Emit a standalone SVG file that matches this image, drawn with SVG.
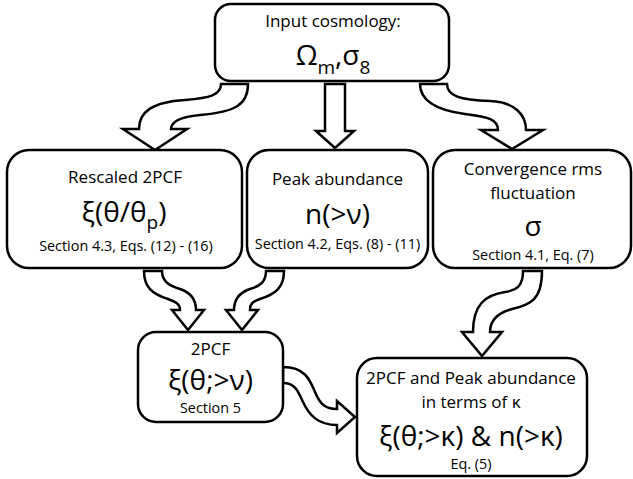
<svg xmlns="http://www.w3.org/2000/svg" width="633" height="479" viewBox="0 0 633 479">
<style>
.box{fill:#fff;stroke:#000;stroke-width:2.5}
.arr{fill:#fff;stroke:#000;stroke-width:2.5;stroke-linejoin:miter}
text{font-family:"Open Sans","Noto Sans","DejaVu Sans",sans-serif;fill:#000;text-anchor:middle}
.lbl{font-size:17px}
.math{font-size:28px}
.sec{font-size:14.4px}
</style>
<rect width="633" height="479" fill="#fff"/>
<g id="connectors">
<path class="arr" d="M 221,84 L 248,84 C 248,105 235,112 200,115 C 180,117 171,122 171,129 L 187,129 L 155,150 L 123,129 L 139,129 C 139,112 152,102 185,100 C 210,98 221,95 221,84 Z"/>
<path class="arr" d="M 325,84 L 345,84 L 345,131 L 354,131 L 335,148 L 316,131 L 325,131 Z"/>
<path class="arr" d="M 420,84 L 447,84 C 447,96 460,100 490,101 C 515,102 526,115 526,130 L 543,130 L 512,149 L 481,130 L 498,130 C 498,120 490,117 465,114 C 435,110 420,100 420,84 Z"/>
<path class="arr" d="M 144,271 L 162,271 C 162,282 170,286 180,289 C 192,293 196,300 196,310 L 204,310 L 188,330 L 172,310 L 180,310 C 180,304 176,302 168,299 C 152,294 144,287 144,271 Z"/>
<path class="arr" d="M 266,271 L 284,271 C 284,287 276,294 260,299 C 252,302 250,304 250,310 L 258,310 L 242,330 L 226,310 L 234,310 C 234,300 238,293 250,289 C 260,286 266,282 266,271 Z"/>
<path class="arr" d="M 523,271 L 542,271 C 542,300 530,305 512,309 C 497,313 490,320 490,332 L 502,332 L 482,356 L 462,332 L 473,332 C 473,305 485,295 505,292 C 518,290 523,285 523,271 Z"/>
<path class="arr" d="M 283,367 C 305,367 310,380 315,392 C 320,404 325,409 337,409 L 337,401 L 355,417 L 337,433 L 337,425 C 318,425 309,415 303,402 C 298,391 295,383 283,383 Z"/>
</g>
<g id="input">
<rect class="box" x="215" y="4" width="234" height="77" rx="16"/>
<text class="lbl" x="333" y="27">Input cosmology:</text>
<text class="math" x="333" y="65">Ω<tspan font-size="19" dy="9">m</tspan><tspan dy="-9">,σ</tspan><tspan font-size="19" dy="9">8</tspan></text>
</g>
<g id="rescaled">
<rect class="box" x="7" y="150" width="235" height="118" rx="22"/>
<text class="lbl" x="125" y="183">Rescaled 2PCF</text>
<text class="math" x="124" y="222">ξ(θ/θ<tspan font-size="19" dy="7">p</tspan><tspan dy="-7">)</tspan></text>
<text class="sec" x="126" y="251">Section 4.3, Eqs. (12) - (16)</text>
</g>
<g id="peak">
<rect class="box" x="247" y="150" width="181" height="118" rx="22"/>
<text class="lbl" x="337.5" y="185">Peak abundance</text>
<text class="math" x="337.5" y="224" font-size="30">n(&gt;ν)</text>
<text class="sec" x="337.5" y="249">Section 4.2, Eqs. (8) - (11)</text>
</g>
<g id="sigma">
<rect class="box" x="433" y="150" width="198" height="118" rx="22"/>
<text class="lbl" x="533" y="175">Convergence rms</text>
<text class="lbl" x="533" y="199">fluctuation</text>
<text class="math" x="533" y="236">σ</text>
<text class="sec" x="533" y="260">Section 4.1, Eq. (7)</text>
</g>
<g id="twopcf">
<rect class="box" x="138" y="332" width="145" height="90" rx="18"/>
<text class="lbl" x="210.5" y="355">2PCF</text>
<text class="math" x="210.5" y="390">ξ(θ;&gt;ν)</text>
<text class="sec" x="210.5" y="413">Section 5</text>
</g>
<g id="kappa">
<rect class="box" x="357" y="358" width="230" height="118" rx="20"/>
<text class="lbl" x="471" y="384">2PCF and Peak abundance</text>
<text class="lbl" x="471" y="408">in terms of κ</text>
<text class="math" x="471" y="446">ξ(θ;&gt;κ) &amp; n(&gt;κ)</text>
<text class="sec" x="471" y="469">Eq. (5)</text>
</g>
</svg>
